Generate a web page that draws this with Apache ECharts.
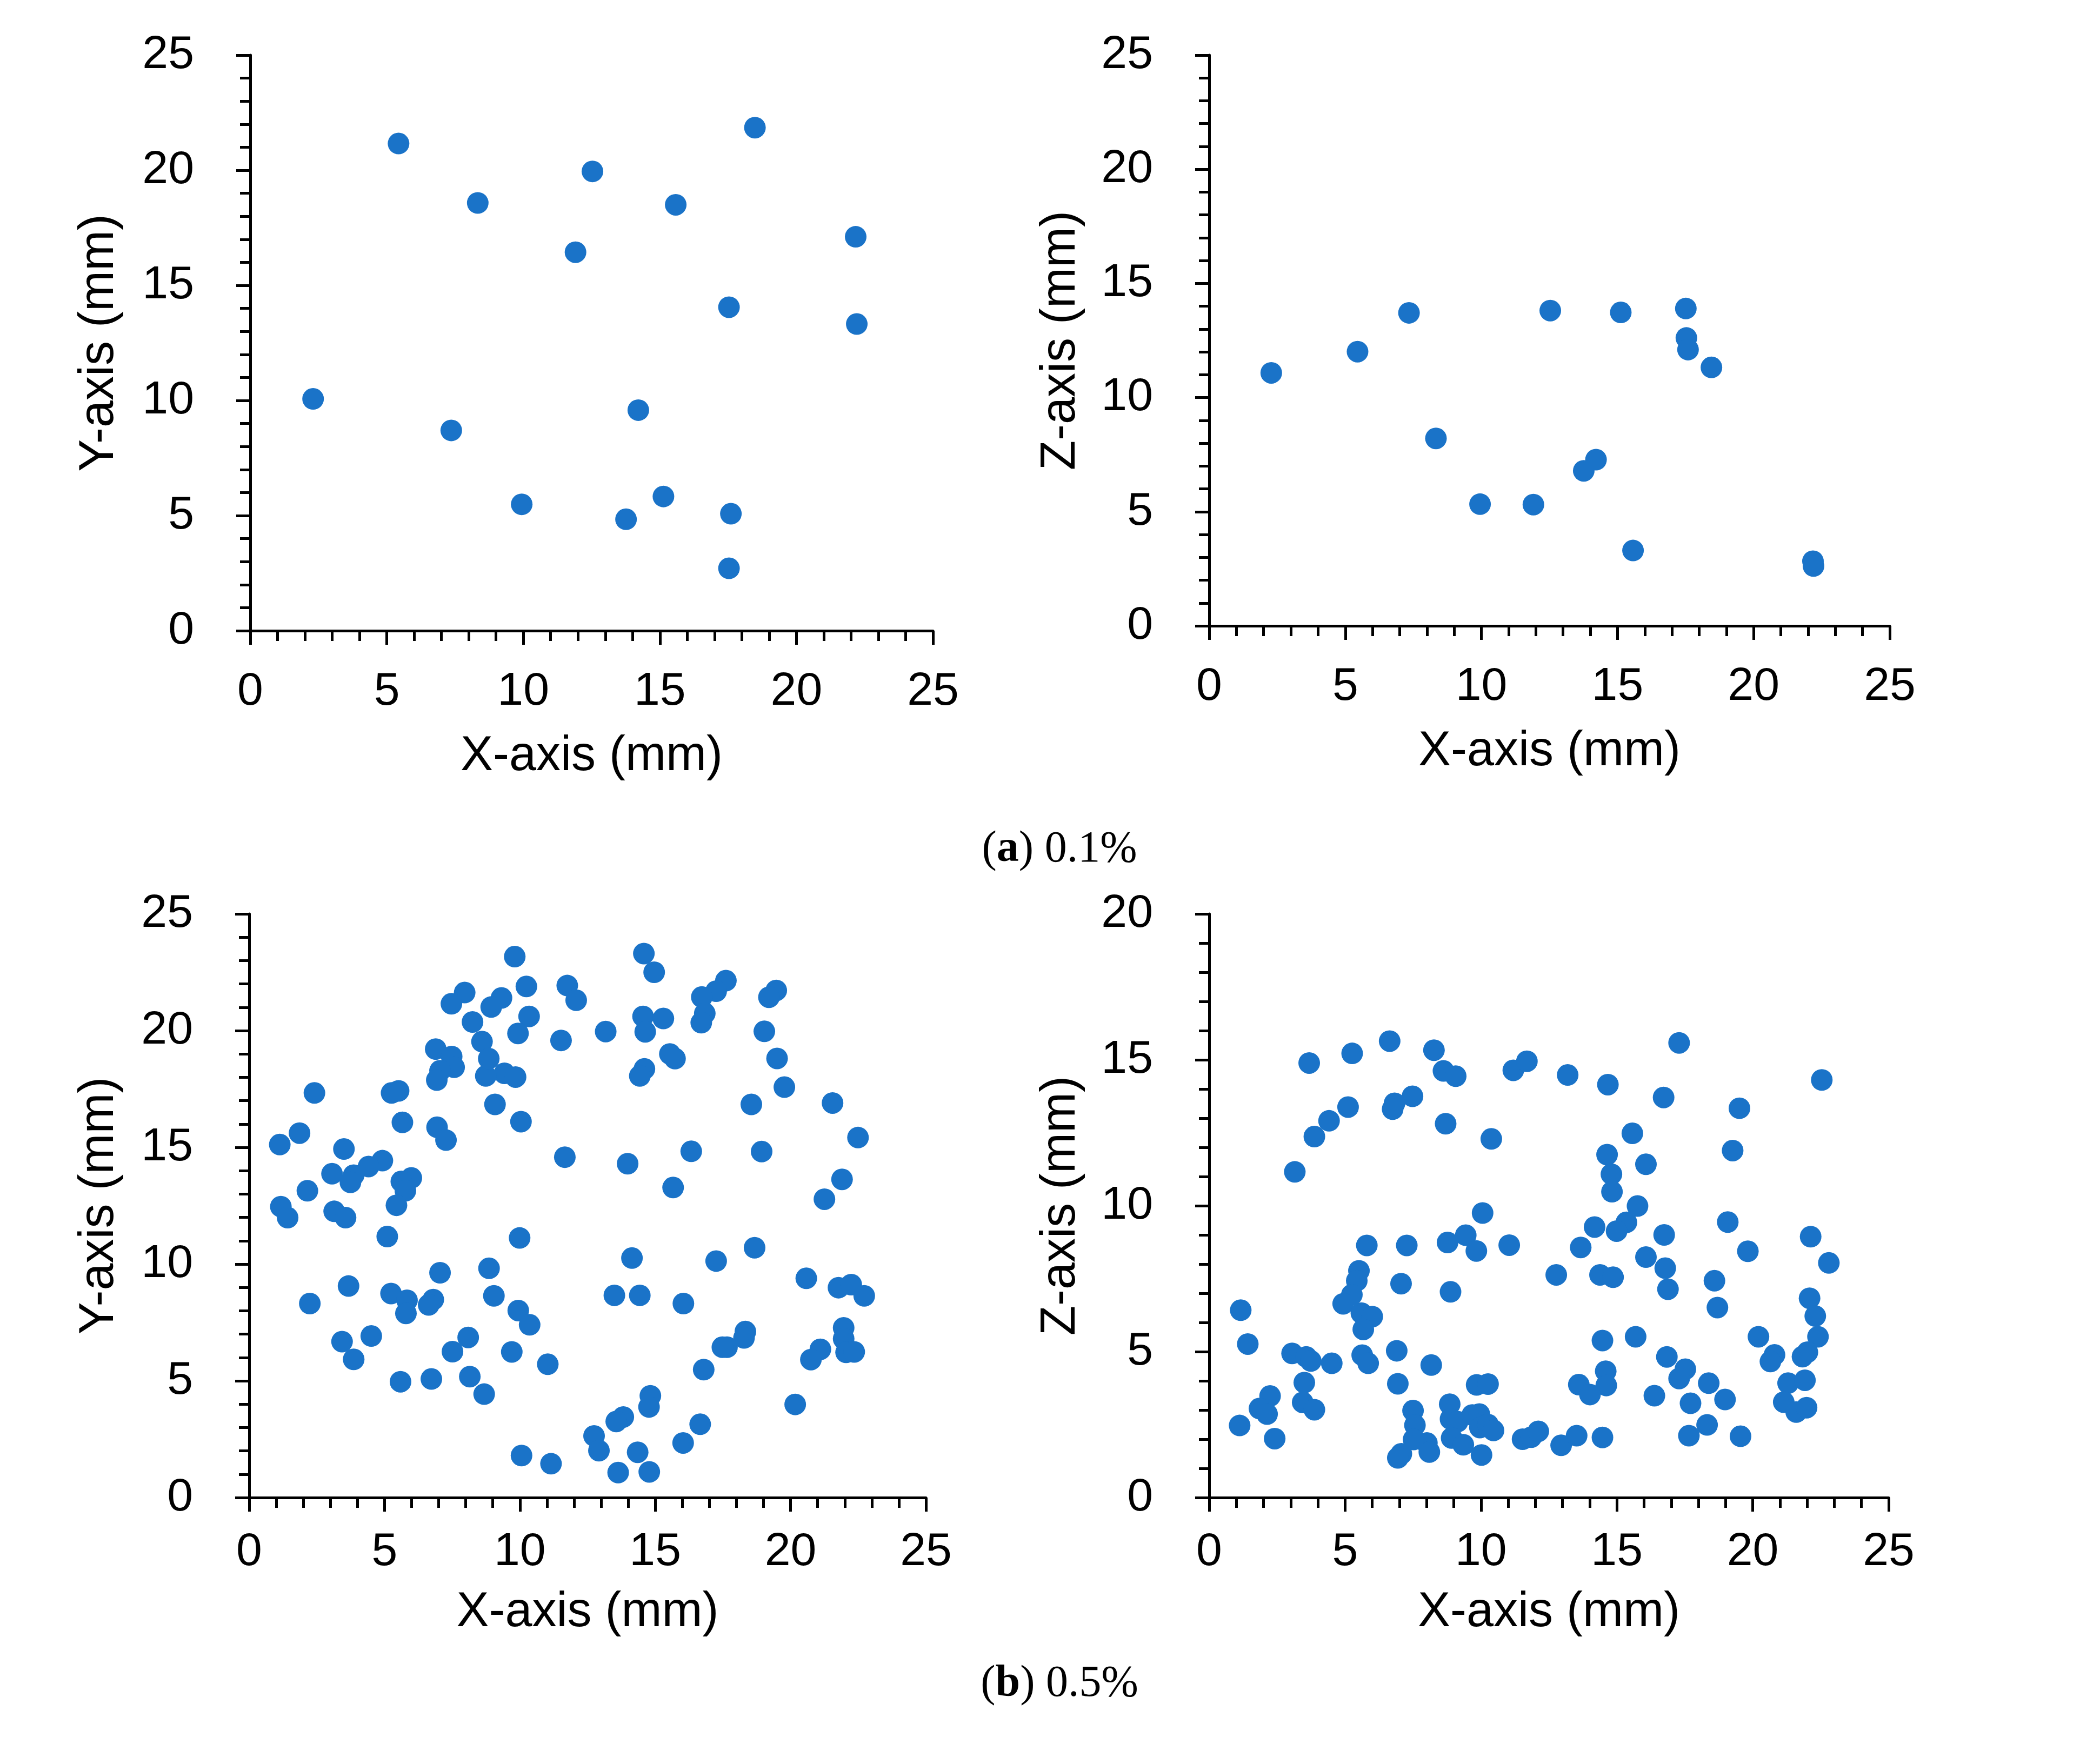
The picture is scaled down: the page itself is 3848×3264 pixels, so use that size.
<!DOCTYPE html>
<html>
<head>
<meta charset="utf-8">
<title>Particle positions</title>
<script src="https://cdn.jsdelivr.net/npm/echarts@6/dist/echarts.min.js"></script>
<style>
  html, body { margin: 0; padding: 0; background: #fff; }
  #chart_box { width: 3848px; height: 3264px; }
</style>
</head>
<body>
<div id="chart_box"></div>
<script>
// (a) 0.1% : X-Y and X-Z positions (mm)
var a_xy = [
  [2.3, 10.07], [5.43, 21.16], [8.33, 18.58], [7.36, 8.70], [9.94, 5.49], [11.91, 16.44],
  [12.53, 19.95], [13.76, 4.84], [14.21, 9.58], [15.13, 5.83], [15.58, 18.50], [17.53, 14.05],
  [17.60, 5.08], [17.53, 2.71], [18.48, 21.85], [22.17, 17.11], [22.21, 13.32]
];
var a_xz = [
  [2.28, 11.08], [5.45, 12.01], [7.34, 13.71], [8.33, 8.21], [9.95, 5.33], [11.91, 5.31],
  [12.53, 13.81], [13.76, 6.79], [14.21, 7.28], [15.12, 13.73], [15.57, 3.30], [17.51, 13.90],
  [17.53, 12.61], [17.59, 12.10], [18.45, 11.32], [22.18, 2.83], [22.20, 2.62]
];

// (b) 0.5% : X-Y positions (mm)
var b_xy = [
  [9.81, 23.17], [7.96, 21.63], [7.47, 21.15], [10.24, 21.89], [9.32, 21.40], [8.94, 21.01],
  [11.75, 21.93], [12.08, 21.30], [8.25, 20.37], [10.34, 20.61], [9.93, 19.88], [11.52, 19.58],
  [8.60, 19.53], [6.89, 19.21], [7.48, 18.89], [7.57, 18.43], [7.05, 18.28], [6.93, 17.88],
  [9.43, 18.17], [9.84, 18.01], [8.74, 18.06], [8.85, 18.80],
  [2.41, 17.33], [5.26, 17.33], [5.52, 17.42], [9.08, 16.84], [5.66, 16.07], [6.94, 15.86],
  [7.27, 15.31], [10.04, 16.10], [1.86, 15.61], [1.13, 15.12], [3.50, 14.93], [11.66, 14.58],
  [4.92, 14.43], [4.41, 14.18], [3.06, 13.87], [3.86, 13.81], [3.74, 13.50], [5.99, 13.69],
  [5.62, 13.54], [5.77, 13.14], [5.44, 12.52], [2.15, 13.14], [1.17, 12.46], [1.42, 11.99],
  [3.14, 12.26], [3.56, 11.99],
  [14.58, 23.30], [14.96, 22.50], [17.61, 22.14], [17.25, 21.69], [16.72, 21.44], [19.47, 21.72],
  [19.20, 21.43], [14.55, 20.61], [15.30, 20.52], [14.63, 19.95], [13.17, 19.96], [16.83, 20.74],
  [16.70, 20.34], [19.03, 19.97], [15.54, 19.00], [15.73, 18.80], [19.50, 18.81], [14.60, 18.36],
  [14.43, 18.06], [19.77, 17.58], [18.55, 16.84], [21.55, 16.90], [22.49, 15.42], [16.33, 14.83],
  [18.93, 14.82], [13.98, 14.30], [21.90, 13.63], [15.66, 13.28], [21.25, 12.78],
  [5.10, 11.18], [9.99, 11.12], [7.05, 9.63], [8.86, 9.82], [3.67, 9.06], [2.24, 8.31],
  [5.24, 8.74], [5.83, 8.45], [5.79, 7.89], [6.80, 8.48], [6.63, 8.25], [9.04, 8.64],
  [9.94, 8.01], [10.36, 7.40], [3.43, 6.68], [4.51, 6.92], [3.86, 5.92], [8.09, 6.86],
  [7.51, 6.25], [9.70, 6.24], [11.03, 5.71], [5.59, 4.96], [6.73, 5.08], [8.15, 5.18],
  [8.68, 4.43], [10.06, 1.80], [11.15, 1.45],
  [14.14, 10.26], [13.49, 8.66], [14.43, 8.66], [17.25, 10.13], [18.67, 10.70], [16.04, 8.31],
  [20.58, 9.39], [21.77, 8.99], [22.24, 9.12], [22.72, 8.64], [18.33, 7.11], [18.28, 6.84],
  [17.65, 6.44], [17.48, 6.44], [16.79, 5.48], [21.96, 7.27], [21.96, 6.80], [22.05, 6.22],
  [22.35, 6.24], [21.10, 6.35], [20.75, 5.91], [14.82, 4.36], [14.77, 3.88], [13.82, 3.45],
  [13.56, 3.26], [12.74, 2.64], [12.92, 2.01], [14.35, 1.94], [13.63, 1.07], [14.78, 1.10],
  [16.66, 3.14], [16.03, 2.34], [20.17, 3.99]
];

// (b) 0.5% : X-Z positions (mm)
var b_xz = [
  [6.64, 15.64], [5.26, 15.22], [3.68, 14.89], [8.27, 15.33], [8.62, 14.62], [9.07, 14.44],
  [11.19, 14.64], [11.69, 14.95], [7.48, 13.75], [6.82, 13.51], [6.75, 13.31], [5.11, 13.38],
  [4.41, 12.91], [3.87, 12.37], [8.70, 12.81], [10.38, 12.29], [3.15, 11.16], [10.06, 9.75],
  [17.29, 15.58], [13.19, 14.48], [14.67, 14.15], [22.54, 14.31], [16.72, 13.71], [19.51, 13.34],
  [15.57, 12.48], [14.64, 11.75], [19.26, 11.89], [16.07, 11.42], [14.80, 11.08], [14.82, 10.48],
  [15.76, 9.99],
  [5.80, 8.64], [7.27, 8.64], [8.77, 8.74], [9.44, 8.99], [9.83, 8.45], [11.04, 8.65],
  [5.51, 7.77], [5.43, 7.43], [5.25, 6.95], [4.93, 6.64], [7.06, 7.33], [8.88, 7.05],
  [1.16, 6.42], [1.42, 5.26], [5.60, 6.32], [6.00, 6.20], [5.67, 5.76], [3.05, 4.94],
  [3.57, 4.82], [3.74, 4.68], [4.51, 4.60], [5.63, 4.88], [5.85, 4.60], [6.90, 5.03],
  [8.17, 4.54], [3.50, 3.94], [6.94, 3.90], [9.84, 3.86], [10.26, 3.89], [2.24, 3.48],
  [1.85, 3.05], [2.13, 2.86], [3.44, 3.26], [3.87, 3.01], [1.12, 2.47], [2.41, 2.02],
  [7.50, 2.98], [7.57, 2.48], [7.52, 1.99], [8.01, 1.87], [8.10, 1.56], [7.07, 1.50],
  [6.94, 1.36], [8.85, 3.20], [8.88, 2.69], [9.14, 2.60], [8.92, 2.04], [9.35, 1.81],
  [9.68, 2.83], [9.94, 2.86], [9.96, 2.40], [10.26, 2.50], [10.46, 2.30], [10.02, 1.46],
  [11.53, 2.00], [11.85, 2.07], [12.11, 2.27],
  [19.08, 9.44], [14.18, 9.27], [15.35, 9.43], [14.99, 9.13], [16.74, 9.00], [13.67, 8.57],
  [16.07, 8.24], [19.82, 8.44], [22.13, 8.94], [22.80, 8.04], [12.77, 7.63], [14.38, 7.63],
  [14.86, 7.55], [16.78, 7.86], [16.88, 7.14], [18.59, 7.43], [18.70, 6.51], [22.09, 6.83],
  [22.30, 6.22], [22.40, 5.51], [14.47, 5.38], [15.69, 5.51], [20.21, 5.51], [20.80, 4.89],
  [20.65, 4.66], [22.01, 4.98], [21.83, 4.83], [16.84, 4.82], [17.52, 4.40], [17.29, 4.08],
  [18.38, 3.92], [14.59, 4.33], [14.61, 3.84], [13.60, 3.87], [14.01, 3.53], [16.38, 3.49],
  [17.71, 3.23], [18.98, 3.36], [21.30, 3.92], [21.92, 4.02], [21.14, 3.27], [21.60, 2.93],
  [21.98, 3.08], [18.32, 2.49], [17.65, 2.12], [19.55, 2.10], [12.95, 1.79], [13.52, 2.12],
  [14.47, 2.06]
];

var yMaxes = [25, 25, 25, 20];
var captions = ['a', 'b'];
var captionText = ['0.1%', '0.5%'];

var myChart1 = echarts.init(document.getElementById('chart_box'));

var sans = 'Liberation Sans, Arial, sans-serif';
var serif = 'Liberation Serif, Times New Roman, serif';
var dotColor = '#1a73c8';

// common axis look: black line, outside ticks, minor tick every 1 mm
function axisBase(gi, max) {
  return {
    type: 'value',
    gridIndex: gi,
    min: 0,
    max: max,
    interval: 5,
    nameLocation: 'middle',
    nameTextStyle: { fontFamily: sans, fontSize: 90, color: '#000' },
    axisLine: { show: true, onZero: false, lineStyle: { color: '#000', width: 5 } },
    axisTick: { show: true, inside: false, length: 26, lineStyle: { color: '#000', width: 5 } },
    minorTick: { show: true, splitNumber: 5, length: 19, lineStyle: { color: '#000', width: 5 } },
    splitLine: { show: false },
    minorSplitLine: { show: false }
  };
}

function xAxisOf(gi, gap, labelGap) {
  var ax = axisBase(gi, 25);
  ax.name = 'X-axis (mm)';
  ax.nameGap = gap;
  ax.axisLabel = { fontFamily: sans, fontSize: 86, color: '#000', margin: labelGap };
  return ax;
}

function yAxisOf(gi, name, gap) {
  var ax = axisBase(gi, yMaxes[gi]);
  ax.name = name;
  ax.nameGap = gap;
  ax.axisLabel = { fontFamily: sans, fontSize: 86, color: '#000', margin: 104 };
  return ax;
}

function dots(gi, data) {
  return {
    type: 'scatter',
    xAxisIndex: gi,
    yAxisIndex: gi,
    data: data,
    symbol: 'circle',
    symbolSize: 40,
    itemStyle: { color: dotColor, opacity: 1 }
  };
}

var option = {
  backgroundColor: '#fff',
  animation: false,
  grid: [
    { left: 463, top: 102, width: 1263, height: 1065, containLabel: false, outerBoundsMode: 'none' },
    { left: 2237, top: 102, width: 1259, height: 1056, containLabel: false, outerBoundsMode: 'none' },
    { left: 461, top: 1691, width: 1252, height: 1080, containLabel: false, outerBoundsMode: 'none' },
    { left: 2237, top: 1691, width: 1257, height: 1080, containLabel: false, outerBoundsMode: 'none' }
  ],
  xAxis: [xAxisOf(0, 188, 70), xAxisOf(1, 188, 70), xAxisOf(2, 168, 58), xAxisOf(3, 168, 58)],
  yAxis: [
    yAxisOf(0, 'Y-axis (mm)', 234),
    yAxisOf(1, 'Z-axis (mm)', 229),
    yAxisOf(2, 'Y-axis (mm)', 232),
    yAxisOf(3, 'Z-axis (mm)', 229)
  ],
  series: [dots(0, a_xy), dots(1, a_xz), dots(2, b_xy), dots(3, b_xz)],
  graphic: [
    {
      type: 'text', x: 1960, y: 1572,
      style: {
        text: '({b|' + captions[0] + '}) ' + captionText[0],
        fontFamily: serif, fontSize: 82, fill: '#000',
        textAlign: 'center', textVerticalAlign: 'middle',
        rich: { b: { fontFamily: serif, fontSize: 82, fontWeight: 'bold', fill: '#000' } }
      }
    },
    {
      type: 'text', x: 1960, y: 3116,
      style: {
        text: '({b|' + captions[1] + '}) ' + captionText[1],
        fontFamily: serif, fontSize: 82, fill: '#000',
        textAlign: 'center', textVerticalAlign: 'middle',
        rich: { b: { fontFamily: serif, fontSize: 82, fontWeight: 'bold', fill: '#000' } }
      }
    }
  ]
};

myChart1.setOption(option);
</script>
</body>
</html>
